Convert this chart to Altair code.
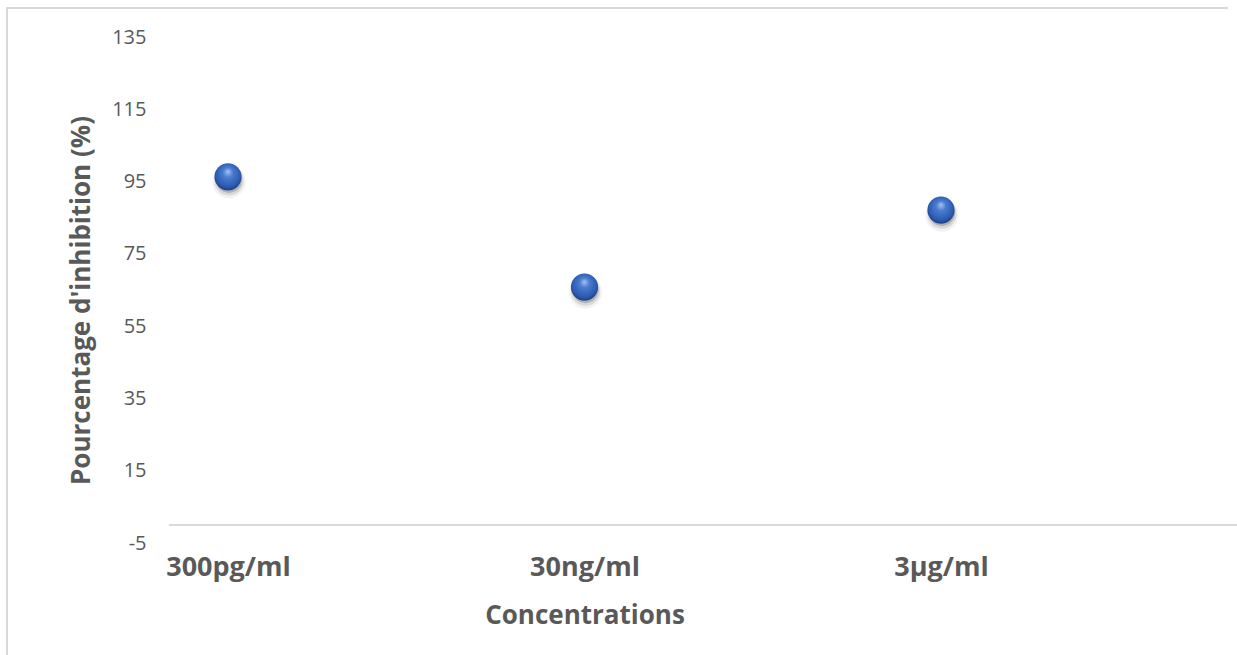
import altair as alt
import pandas as pd

# Inhibition measured at each concentration
categories = ["300pg/ml", "30ng/ml", "3µg/ml"]
inhibition = [96.3, 65.8, 87.1]
y_ticks = [-5, 15, 35, 55, 75, 95, 115, 135]

df = pd.DataFrame({"Concentration": categories, "Inhibition": inhibition})

FONT = "Open Sans"
TEXT = "#595959"
LINE = "#d9d9d9"

x_enc = alt.X(
    "Concentration:N",
    sort=categories,
    scale=alt.Scale(type="point", padding=0.1655),
    axis=alt.Axis(
        title="Concentrations",
        labelAngle=0,
        labelFont=FONT,
        labelFontSize=27,
        labelFontWeight="bold",
        labelColor=TEXT,
        labelPadding=11,
        ticks=False,
        tickSize=0,
        domain=False,
        grid=False,
        titleFont=FONT,
        titleFontSize=26,
        titleFontWeight="bold",
        titleColor=TEXT,
        titleBaseline="alphabetic",
        titleY=80,
    ),
)
y_enc = alt.Y(
    "Inhibition:Q",
    scale=alt.Scale(domain=[-5, 135], nice=False, zero=False),
    axis=alt.Axis(
        title="Pourcentage d'inhibition (%)",
        values=y_ticks,
        labelExpr="'' + datum.value",
        labelFont=FONT,
        labelFontSize=20,
        labelColor=TEXT,
        labelPadding=23,
        ticks=False,
        tickSize=0,
        domain=False,
        grid=False,
        titleFont=FONT,
        titleFontSize=26,
        titleFontWeight="bold",
        titleColor=TEXT,
        titleAngle=-90,
        titleBaseline="alphabetic",
        titleAlign="center",
        titleX=-80,
        titleY=263,
    ),
)

base = alt.Chart(df).encode(x=x_enc, y=y_enc)

# soft drop shadow under each sphere
shadow_outer = base.mark_circle(color="#000000", opacity=0.05, size=1100, xOffset=1, yOffset=5)
shadow_mid = base.mark_circle(color="#000000", opacity=0.10, size=860, xOffset=1, yOffset=4)
shadow_in = base.mark_circle(color="#000000", opacity=0.18, size=680, xOffset=1, yOffset=3)

# glossy blue sphere
sphere_fill = alt.RadialGradient(
    gradient="radial",
    stops=[
        alt.GradientStop(offset=0.0, color="#a9c2ee"),
        alt.GradientStop(offset=0.3, color="#4a7cd2"),
        alt.GradientStop(offset=0.75, color="#2c5bb0"),
        alt.GradientStop(offset=1.0, color="#17346f"),
    ],
    x1=0.5, y1=0.3, r1=0.0,
    x2=0.5, y2=0.45, r2=0.6,
)
sphere = base.mark_circle(color=sphere_fill, opacity=1, size=740)

# horizontal axis line at zero
zero_line = alt.Chart(df).mark_rule(color=LINE, strokeWidth=2).encode(
    y=alt.datum(0), x=alt.value(0), x2=alt.value(1068)
)

# outer chart frame (top and left edges)
frame_top = alt.Chart(df).mark_rule(color=LINE, strokeWidth=2).encode(
    x=alt.value(-162), x2=alt.value(1059), y=alt.value(-29)
)
frame_left = alt.Chart(df).mark_rule(color=LINE, strokeWidth=2).encode(
    x=alt.value(-162), y=alt.value(-30), y2=alt.value(620)
)

chart = (
    alt.layer(frame_top, frame_left, zero_line, shadow_outer, shadow_mid, shadow_in, sphere)
    .properties(
        width=831,
        height=506,
        background="white",
        autosize=alt.AutoSizeParams(type="none"),
        padding={"left": 169, "top": 37, "right": 237, "bottom": 112},
    )
    .configure_view(stroke=None)
)

chart.save("out.html", embed_options={"renderer": "svg", "actions": False})
